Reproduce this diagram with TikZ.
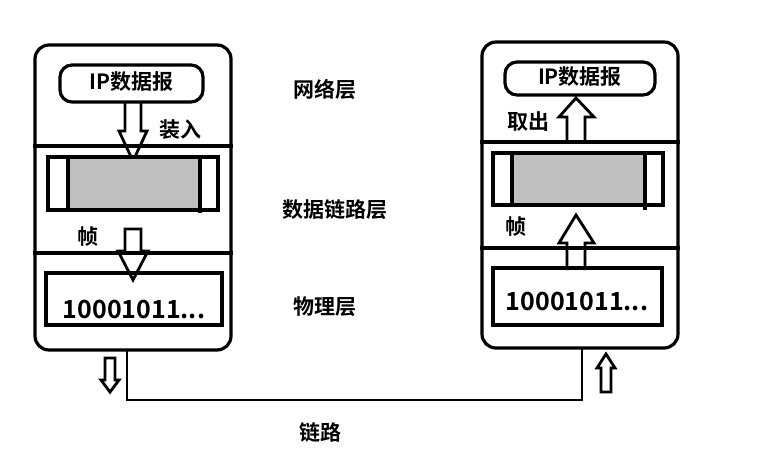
\documentclass[tikz,border=0pt]{standalone}
\usepackage{fontspec}
\setmainfont{Noto Sans CJK SC}[BoldFont={Noto Sans CJK SC Bold}]
\begin{document}
\begin{tikzpicture}[x=1pt,y=-1pt,line width=3.2pt,
  lbl/.style={font=\bfseries\fontsize{21}{21}\selectfont,inner sep=0pt},
  bits/.style={font=\bfseries\fontsize{25}{25}\selectfont,inner sep=0pt}]
\useasboundingbox (0,0) rectangle (760,473);
% left host
\draw[rounded corners=14pt] (35,45) rectangle (231,350);
\coordinate (Lb) at (127,350);
\draw (33,146) -- (233,146);
\draw (33,253) -- (233,253);
\draw[rounded corners=12pt] (60,65) rectangle (203,102);
\node[lbl] (ipL) at (131.5,82) {IP数据报};
\draw[line width=2.8pt,line join=miter] (125,102) -- (125,131) -- (119,131) -- (133,161) -- (147,131) -- (141,131) -- (141,102);
\node[lbl] (zr) at (180,130) {装入};
\fill[gray!50] (68,157) rectangle (200,210);
\draw (48,157) rectangle (218,210);
\draw (68,157) -- (68,210);
\draw (200,157) -- (200,213);
\node[lbl] (zL) at (88,237) {帧};
\draw[line width=2.8pt,line join=miter] (125,229) -- (141,229) -- (141,251) -- (148,251) -- (133,280) -- (118,251) -- (125,251) -- cycle;
\draw (46,273) rectangle (222,325);
\node[bits] (bL) at (134,309) {10001011...};
\draw[line width=2.8pt,line join=miter] (105,358) -- (115,358) -- (115,380) -- (119,380) -- (110,392) -- (101,380) -- (105,380) -- cycle;
% right host
\draw[rounded corners=14pt] (482,42) rectangle (678,348);
\coordinate (Rb) at (582,348);
\draw (480,142) -- (680,142);
\draw (480,248) -- (680,248);
\draw[rounded corners=12pt] (505,62) rectangle (655,95);
\node[lbl] (ipR) at (580,77) {IP数据报};
\draw[line width=2.8pt,line join=miter] (567,142) -- (567,117) -- (559,117) -- (576,98) -- (594,117) -- (585,117) -- (585,142);
\node[lbl] (qc) at (528,122) {取出};
\fill[gray!50] (512,153) rectangle (645,205);
\draw (493,153) rectangle (663,205);
\draw (512,153) -- (512,205);
\draw (645,153) -- (645,210);
\node[lbl] (zR) at (516,227) {帧};
\draw[line width=2.8pt,line join=miter] (567,270) -- (567,243) -- (559,243) -- (576,215) -- (594,243) -- (585,243) -- (585,270);
\draw (493,268) rectangle (662,325);
\node[bits] (bR) at (577,301) {10001011...};
\draw[line width=2.8pt,line join=miter] (601,392) -- (611,392) -- (611,368) -- (615,368) -- (606,354) -- (597,368) -- (601,368) -- cycle;
% link
\draw[line width=2.8pt] (Lb) -- (127,400) -- (582,400) -- (Rb);
% layer labels
\node[lbl] (n1) at (325,90) {网络层};
\node[lbl] (n2) at (335,210) {数据链路层};
\node[lbl] (n3) at (325,307) {物理层};
\node[lbl] (n4) at (320,432) {链路};
\end{tikzpicture}
\end{document}
